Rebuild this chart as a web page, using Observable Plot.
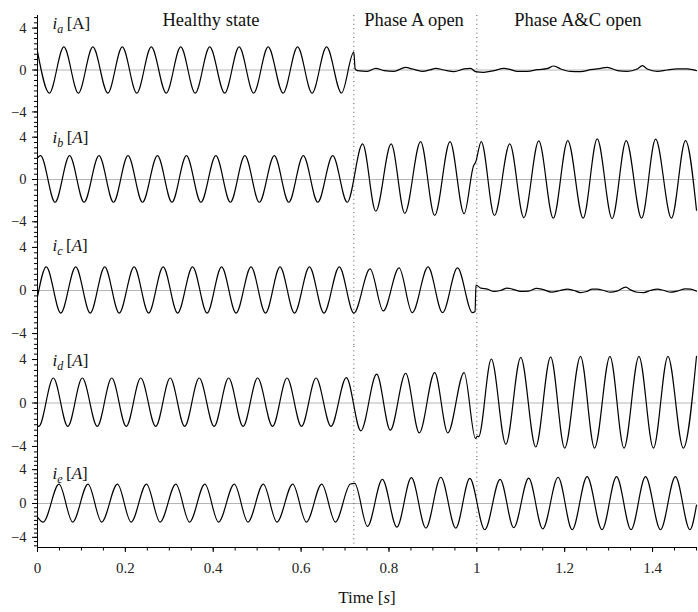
<!DOCTYPE html>
<html><head><meta charset="utf-8">
<script src="https://cdn.jsdelivr.net/npm/d3@7"></script>
<script src="https://cdn.jsdelivr.net/npm/@observablehq/plot@0.6"></script>
<style>
body{margin:0;background:#fff;}
#chart{width:698px;height:612px;position:relative;overflow:hidden;}
#chart svg{display:block;}
#chart svg, #chart svg text, #chart svg tspan{font-family:"Liberation Serif","Times New Roman",Tinos,serif !important;}
</style></head><body><div id="chart"></div>
<script>
// ---- data ----
const panelNames = ["a","b","c","d","e"];
const eventTimes = [0.72, 1.0];
const stateLabels = ["Healthy state","Phase A open","Phase A&C open"];
const stateLabelX = [0.395, 0.857, 1.23];
const xTicks = [0,0.2,0.4,0.6,0.8,1,1.2,1.4];
const yTicks = [-4,0,4];

// [time s, current A] – extrema and turning points of each trace
const ia = [[0,1.75],[0.027,-2.2],[0.060,2.2],[0.093,-2.2],[0.126,2.2],[0.160,-2.2],[0.193,2.2],[0.226,-2.2],[0.259,2.2],[0.293,-2.2],[0.326,2.2],[0.359,-2.2],[0.392,2.2],[0.426,-2.2],[0.459,2.2],[0.492,-2.2],[0.525,2.2],[0.559,-2.2],[0.592,2.2],[0.625,-2.2],[0.658,2.2],[0.692,-2.2],[0.720,1.7],[0.723,0.1],[0.728,-0.06],[0.751,-0.13],[0.770,0.16],[0.789,-0.06],[0.811,-0.13],[0.838,0.25],[0.853,0.1],[0.876,-0.13],[0.895,0.03],[0.906,0.16],[0.925,0],[0.948,-0.16],[0.971,0.1],[0.986,0.16],[0.997,-0.16],[1.016,-0.22],[1.039,-0.06],[1.062,0.16],[1.077,0.03],[1.092,-0.13],[1.115,-0.13],[1.138,0.03],[1.160,0.13],[1.175,0.38],[1.191,0.1],[1.213,-0.13],[1.236,-0.16],[1.259,0.03],[1.282,0.16],[1.297,0.25],[1.320,-0.06],[1.342,-0.13],[1.365,0.1],[1.377,0.41],[1.388,0.1],[1.411,-0.13],[1.433,0],[1.456,0.1],[1.479,0.1],[1.500,-0.06]];

const ib = [[0,2.05],[0.007,2.25],[0.040,-2.15],[0.073,2.25],[0.106,-2.15],[0.140,2.25],[0.173,-2.15],[0.206,2.25],[0.239,-2.15],[0.273,2.25],[0.306,-2.15],[0.339,2.25],[0.372,-2.15],[0.406,2.25],[0.439,-2.15],[0.472,2.25],[0.505,-2.15],[0.539,2.25],[0.572,-2.15],[0.605,2.25],[0.638,-2.15],[0.672,2.25],[0.705,-2.15],[0.740,3.36],[0.770,-3.0],[0.805,3.36],[0.836,-3.2],[0.872,3.58],[0.904,-3.4],[0.939,3.58],[0.971,-3.24],[0.993,1.35],[0.997,1.6],[1.010,3.58],[1.040,-3.4],[1.075,3.36],[1.107,-3.6],[1.141,3.65],[1.174,-3.66],[1.207,3.68],[1.242,-3.66],[1.274,3.84],[1.308,-3.7],[1.340,3.68],[1.375,-3.66],[1.407,3.81],[1.443,-3.66],[1.475,3.68],[1.500,-2.9]];

const ic = [[0,-0.6],[0.020,2.2],[0.053,-2.1],[0.087,2.2],[0.120,-2.1],[0.153,2.2],[0.186,-2.1],[0.220,2.2],[0.253,-2.1],[0.286,2.2],[0.319,-2.1],[0.353,2.2],[0.386,-2.1],[0.419,2.2],[0.452,-2.1],[0.486,2.2],[0.519,-2.1],[0.552,2.2],[0.585,-2.1],[0.619,2.2],[0.652,-2.1],[0.687,2.2],[0.720,-2.1],[0.757,2.0],[0.787,-1.9],[0.823,2.1],[0.853,-2.06],[0.889,2.19],[0.922,-2.06],[0.956,2.1],[0.990,-2.06],[0.996,-1.95],[0.998,0.5],[1.009,0.22],[1.024,0.13],[1.039,-0.09],[1.054,0],[1.069,0.22],[1.081,0.13],[1.100,-0.09],[1.118,-0.05],[1.136,0.2],[1.150,0.1],[1.170,-0.15],[1.190,0],[1.206,0.13],[1.221,0],[1.236,-0.19],[1.250,-0.09],[1.263,0.13],[1.274,0.13],[1.289,0],[1.304,-0.16],[1.319,-0.06],[1.339,0.31],[1.350,0.06],[1.365,-0.16],[1.380,-0.19],[1.395,0],[1.411,0.13],[1.426,0],[1.441,-0.16],[1.456,-0.06],[1.475,0.16],[1.487,0.13],[1.500,-0.06]];

const id = [[0,-2.1],[0.003,-2.15],[0.036,2.3],[0.069,-2.15],[0.102,2.3],[0.136,-2.15],[0.169,2.3],[0.202,-2.15],[0.235,2.3],[0.269,-2.15],[0.302,2.3],[0.335,-2.15],[0.368,2.3],[0.402,-2.15],[0.435,2.3],[0.468,-2.15],[0.501,2.3],[0.535,-2.15],[0.568,2.3],[0.601,-2.15],[0.634,2.3],[0.668,-2.15],[0.703,2.34],[0.736,-2.56],[0.772,2.65],[0.803,-2.5],[0.838,2.74],[0.869,-2.75],[0.904,2.8],[0.934,-2.75],[0.971,2.8],[0.997,-3.27],[1.001,-3.05],[1.004,-3.1],[1.033,4.05],[1.066,-3.8],[1.100,4.2],[1.134,-4.05],[1.168,4.25],[1.200,-4.15],[1.236,4.3],[1.268,-4.15],[1.303,4.3],[1.335,-4.15],[1.369,4.3],[1.402,-4.15],[1.435,4.3],[1.470,-4.15],[1.500,4.3]];

const ie = [[0,-1.6],[0.013,-2.2],[0.049,2.3],[0.080,-2.2],[0.115,2.3],[0.146,-2.2],[0.182,2.3],[0.213,-2.2],[0.248,2.3],[0.279,-2.2],[0.315,2.3],[0.346,-2.2],[0.381,2.3],[0.412,-2.2],[0.448,2.3],[0.479,-2.2],[0.514,2.3],[0.545,-2.2],[0.581,2.3],[0.612,-2.2],[0.647,2.3],[0.678,-2.19],[0.712,2.3],[0.722,2.38],[0.751,-2.7],[0.785,2.86],[0.818,-2.79],[0.851,3.05],[0.884,-2.9],[0.918,3.1],[0.952,-2.9],[0.984,2.98],[1.018,-3.1],[1.053,2.86],[1.084,-2.86],[1.118,3.0],[1.150,-3.0],[1.185,3.1],[1.217,-3.1],[1.251,3.17],[1.285,-3.1],[1.318,3.17],[1.351,-3.1],[1.384,3.17],[1.418,-3.1],[1.452,3.17],[1.485,-3.1],[1.500,-0.2]];

const series = [ia, ib, ic, id, ie];

// ---- layout (pixels) ----
const FONT = "Liberation Serif, Times New Roman, serif";
const yDomain = [-5.2, 5.2];
const layout = [
  {height:124, marginTop:15, marginBottom:0, labelY:4.44},
  {height:110, marginTop:0, marginBottom:0, labelY:3.96},
  {height:112, marginTop:0, marginBottom:0, labelY:4.2},
  {height:113, marginTop:0, marginBottom:0, labelY:3.87},
  {height:153, marginTop:0, marginBottom:65, labelY:3.49}
];

const chart = document.getElementById("chart");

series.forEach((s, i) => {
  const L = layout[i];
  const data = s.map(([t, v]) => ({t, v}));
  const placeholder = "i_" + panelNames[i] + " [A]";
  const marks = [
    Plot.ruleY([0], {stroke:"#b5b5b5", strokeWidth:1}),
    Plot.ruleX(eventTimes, {stroke:"#555", strokeWidth:1, strokeDasharray:"1,3.4"}),
    Plot.line(data, {x:"t", y:"v", curve:"monotone-x", stroke:"#000", strokeWidth:1.2}),
    Plot.ruleX([0], {stroke:"#000", strokeWidth:1}),
    Plot.axisY({ticks:yTicks, tickSize:5, tickPadding:6, fontSize:14.5, label:null, fill:"#222"}),
    Plot.axisY({ticks:d3.range(-5, 5.001, 0.5), tickSize:3, tickFormat:() => "", label:null}),
    Plot.text([placeholder], {frameAnchor:"left", dx:15, y:L.labelY, fontSize:17, textAnchor:"start", fill:"#111"})
  ];
  if (i === 0) {
    marks.push(Plot.text(stateLabels, {x:(d, j) => stateLabelX[j], y:4.8, fontSize:18.5, fill:"#111"}));
  }
  if (i === 4) {
    marks.push(Plot.ruleY([yDomain[0]], {stroke:"#000", strokeWidth:1}));
    marks.push(Plot.axisX({ticks:xTicks, tickSize:5, tickPadding:10, fontSize:15, tickFormat:d => String(d), label:null, fill:"#222"}));
    marks.push(Plot.axisX({ticks:d3.range(0, 1.5001, 0.05), tickSize:3.5, tickFormat:() => "", label:null}));
    marks.push(Plot.text(["Time [s]"], {x:0.75, frameAnchor:"bottom", dy:55, fontSize:17, fill:"#111"}));
  }
  const svg = Plot.plot({
    width:698, height:L.height,
    marginLeft:37, marginRight:2, marginTop:L.marginTop, marginBottom:L.marginBottom,
    style:{background:"transparent", overflow:"visible"},
    x:{domain:[0, 1.5], axis:null, label:null},
    y:{domain:yDomain, axis:null, label:null},
    marks
  });
  svg.setAttribute("font-family", FONT);
  // rich text for the axis labels (italic symbols, subscripts)
  d3.select(svg).selectAll("text").each(function() {
    this.setAttribute("font-family", FONT);
    const txt = this.textContent;
    if (txt === placeholder) {
      const t = d3.select(this); t.text("");
      t.append("tspan").attr("font-style","italic").text("i");
      t.append("tspan").attr("font-style","italic").attr("font-size","12").attr("dy","4").text(panelNames[i]);
      if (i === 0) {
        t.append("tspan").attr("dy","-4").text("\u2009[A]");
      } else {
        t.append("tspan").attr("dy","-4").text("\u2009[");
        t.append("tspan").attr("font-style","italic").text("A");
        t.append("tspan").text("]");
      }
    } else if (txt === "Time [s]") {
      const t = d3.select(this); t.text("");
      t.append("tspan").text("Time [");
      t.append("tspan").attr("font-style","italic").text("s");
      t.append("tspan").text("]");
    }
  });
  chart.appendChild(svg);
});
</script></body></html>
